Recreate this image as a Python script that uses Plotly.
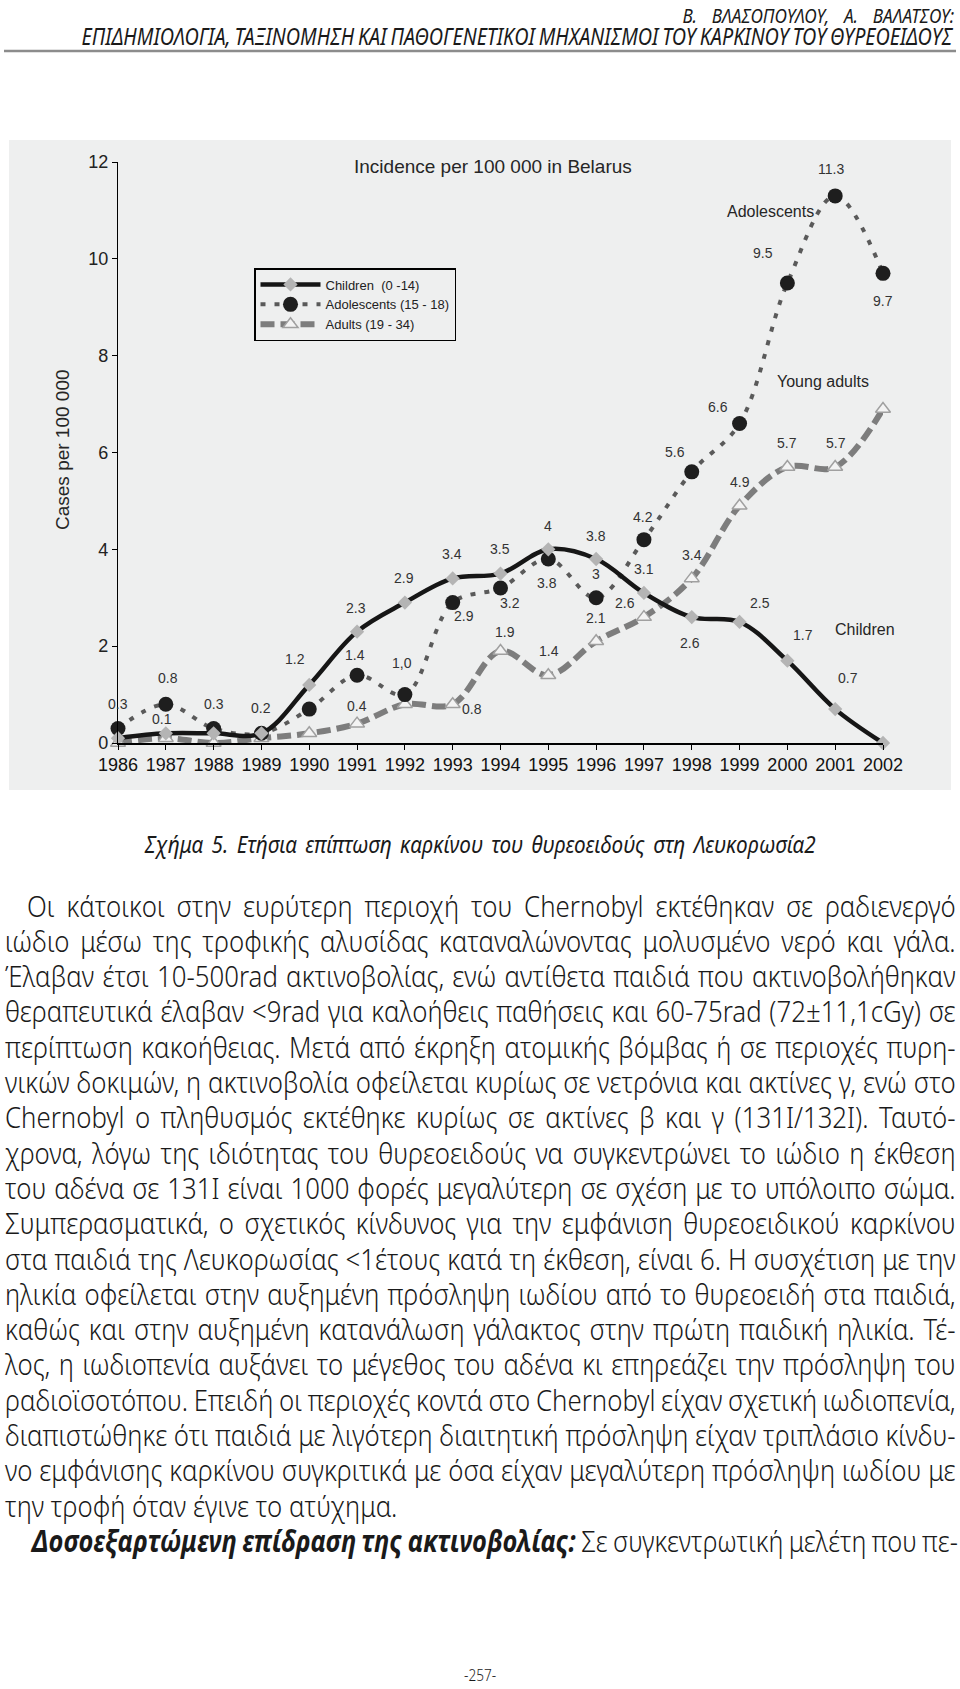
import json
import plotly.graph_objects as go

# ---------------- data ----------------
years = list(range(1986, 2003))
children = [0.1, 0.2, 0.2, 0.2, 1.2, 2.3, 2.9, 3.4, 3.5, 4.0, 3.8, 3.1, 2.6, 2.5, 1.7, 0.7, 0.0]
adolescents = [0.3, 0.8, 0.3, 0.2, 0.7, 1.4, 1.0, 2.9, 3.2, 3.8, 3.0, 4.2, 5.6, 6.6, 9.5, 11.3, 9.7]
adults = [0.0, 0.1, 0.0, 0.1, 0.2, 0.4, 0.8, 0.8, 1.9, 1.4, 2.1, 2.6, 3.4, 4.9, 5.7, 5.7, 6.9]
year_labels = [str(y) for y in years]
y_ticks = [0, 2, 4, 6, 8, 10, 12]
series_names = ["Children  (0 -14)", "Adolescents (15 - 18)", "Adults (19 - 34)"]

# value labels printed on the chart (text, year, value position)
value_labels = [
    ("0.3", 1986.0, 0.80), ("0.8", 1987.05, 1.34), ("0.1", 1986.92, 0.50),
    ("0.3", 1988.0, 0.80), ("0.2", 1989.0, 0.72), ("1.2", 1989.71, 1.73),
    ("2.3", 1990.98, 2.79), ("1.4", 1990.96, 1.82), ("0.4", 1991.0, 0.76),
    ("2.9", 1991.99, 3.41), ("1,0", 1991.93, 1.65), ("3.4", 1992.99, 3.90),
    ("2.9", 1993.24, 2.62), ("0.8", 1993.40, 0.70), ("3.5", 1993.99, 4.00),
    ("3.2", 1994.20, 2.90), ("1.9", 1994.10, 2.30), ("4", 1995.0, 4.48),
    ("3.8", 1994.97, 3.30), ("1.4", 1995.01, 1.90), ("3.8", 1995.99, 4.28),
    ("3", 1996.0, 3.50), ("2.1", 1995.99, 2.58), ("2.6", 1996.60, 2.90),
    ("4.2", 1996.97, 4.67), ("3.1", 1997.0, 3.60), ("5.6", 1997.65, 6.00),
    ("3.4", 1998.0, 3.88), ("2.6", 1997.96, 2.07), ("2.5", 1999.42, 2.90),
    ("4.9", 1999.0, 5.40), ("1.7", 2000.32, 2.23), ("0.7", 2001.27, 1.34),
    ("0", 2002.04, 0.50), ("6.6", 1998.55, 6.94), ("5.7", 2000.0, 6.20),
    ("5.7", 2001.02, 6.20), ("6.9", 2002.04, 7.30), ("9.5", 1999.49, 10.12),
    ("9.7", 2002.0, 9.13), ("11.3", 2000.91, 11.86),
]
series_labels = [("Adolescents", 1999.65, 10.97), ("Young adults", 2000.74, 7.46),
                 ("Children", 2001.62, 2.35)]

chart_title = "Incidence per 100 000 in Belarus"
y_title = "Cases per 100 000"

header_lines = [
    "Β. ΒΛΑΣΟΠΟΥΛΟΥ, Α. ΒΑΛΑΤΣΟΥ:",
    "ΕΠΙΔΗΜΙΟΛΟΓΙΑ, ΤΑΞΙΝΟΜΗΣΗ ΚΑΙ ΠΑΘΟΓΕΝΕΤΙΚΟΙ ΜΗΧΑΝΙΣΜΟΙ ΤΟΥ ΚΑΡΚΙΝΟΥ ΤΟΥ ΘΥΡΕΟΕΙΔΟΥΣ",
]
caption = "Σχήμα 5. Ετήσια επίπτωση καρκίνου του θυρεοειδούς στη Λευκορωσία2"
body_lines = [
    "Οι κάτοικοι στην ευρύτερη περιοχή του Chernobyl εκτέθηκαν σε ραδιενεργό",
    "ιώδιο μέσω της τροφικής αλυσίδας καταναλώνοντας μολυσμένο νερό και γάλα.",
    "Έλαβαν έτσι 10-500rad ακτινοβολίας, ενώ αντίθετα παιδιά που ακτινοβολήθηκαν",
    "θεραπευτικά έλαβαν &lt;9rad για καλοήθεις παθήσεις και 60-75rad (72±11,1cGy) σε",
    "περίπτωση κακοήθειας. Μετά από έκρηξη ατομικής βόμβας ή σε περιοχές πυρη-",
    "νικών δοκιμών, η ακτινοβολία οφείλεται κυρίως σε νετρόνια και ακτίνες γ, ενώ στο",
    "Chernobyl ο πληθυσμός εκτέθηκε κυρίως σε ακτίνες β και γ (131I/132I). Ταυτό-",
    "χρονα, λόγω της ιδιότητας του θυρεοειδούς να συγκεντρώνει το ιώδιο η έκθεση",
    "του αδένα σε 131I είναι 1000 φορές μεγαλύτερη σε σχέση με το υπόλοιπο σώμα.",
    "Συμπερασματικά, ο σχετικός κίνδυνος για την εμφάνιση θυρεοειδικού καρκίνου",
    "στα παιδιά της Λευκορωσίας &lt;1έτους κατά τη έκθεση, είναι 6. Η συσχέτιση με την",
    "ηλικία οφείλεται στην αυξημένη πρόσληψη ιωδίου από το θυρεοειδή στα παιδιά,",
    "καθώς και στην αυξημένη κατανάλωση γάλακτος στην πρώτη παιδική ηλικία. Τέ-",
    "λος, η ιωδιοπενία αυξάνει το μέγεθος του αδένα κι επηρεάζει την πρόσληψη του",
    "ραδιοϊσοτόπου. Επειδή οι περιοχές κοντά στο Chernobyl είχαν σχετική ιωδιοπενία,",
    "διαπιστώθηκε ότι παιδιά με λιγότερη διαιτητική πρόσληψη είχαν τριπλάσιο κίνδυ-",
    "νο εμφάνισης καρκίνου συγκριτικά με όσα είχαν μεγαλύτερη πρόσληψη ιωδίου με",
    "την τροφή όταν έγινε το ατύχημα.",
    "<b><i>Δοσοεξαρτώμενη επίδραση της ακτινοβολίας:</i></b> Σε συγκεντρωτική μελέτη που πε-",
]
page_number = "-257-"

# ---------------- helpers ----------------
W, H = 960, 1689


def PX(x):
    return x / W


def PY(y):
    return 1 - y / H


ARIAL = "Liberation Sans, Arial, sans-serif"
BODY = "Noto Sans, Open Sans, sans-serif"

fig = go.Figure()

fig.add_trace(go.Scatter(
    x=years, y=adults, name=series_names[2], mode="lines+markers",
    line=dict(color="#7d7d7d", width=6, dash="14px,6px", shape="spline", smoothing=1),
    marker=dict(symbol="triangle-up", size=13, color="#f3f3f3",
                line=dict(color="#a0a0a0", width=1.5)),
    cliponaxis=False, legendrank=3))
fig.add_trace(go.Scatter(
    x=years, y=adolescents, name=series_names[1], mode="lines+markers",
    line=dict(color="#5a5a5a", width=4, dash="5px,9px", shape="spline", smoothing=1),
    marker=dict(symbol="circle", size=15, color="#1e1e1e"),
    cliponaxis=False, legendrank=2))
fig.add_trace(go.Scatter(
    x=years, y=children, name=series_names[0], mode="lines+markers",
    line=dict(color="#161616", width=4.5, shape="spline", smoothing=1),
    marker=dict(symbol="diamond", size=11, color="#b4b4b4"),
    cliponaxis=False, legendrank=1))

annotations = []

for t, xv, yv in value_labels:
    annotations.append(dict(text=t, x=xv, y=yv, xref="x", yref="y", showarrow=False,
                            xanchor="center", yanchor="middle",
                            font=dict(family=ARIAL, size=14, color="#333")))
for t, xv, yv in series_labels:
    annotations.append(dict(text=t, x=xv, y=yv, xref="x", yref="y", showarrow=False,
                            xanchor="center", yanchor="middle",
                            font=dict(family=ARIAL, size=16, color="#262626")))

annotations.append(dict(text=chart_title, x=PX(493), y=PY(167), xref="paper", yref="paper",
                        xanchor="center", yanchor="middle", showarrow=False,
                        font=dict(family=ARIAL, size=19, color="#262626")))
annotations.append(dict(text=y_title, x=PX(62), y=PY(450), xref="paper", yref="paper",
                        xanchor="center", yanchor="middle", showarrow=False, textangle=-90,
                        font=dict(family=ARIAL, size=19, color="#262626")))

fit_spec = {}

# header
for t, yc, target, fs in zip(header_lines, [15, 36], [272, 871], [20, 23]):
    fit_spec[len(annotations)] = dict(T=target, s=0.86, j=True)
    annotations.append(dict(text=t, x=PX(955), y=PY(yc), xref="paper", yref="paper",
                            xanchor="right", yanchor="middle", align="right",
                            showarrow=False, borderpad=0,
                            font=dict(family=BODY, size=fs, color="#1a1a1a", style="italic")))

# caption
fit_spec[len(annotations)] = dict(T=671, s=0.9, j=True)
annotations.append(dict(text=caption, x=PX(480), y=PY(844), xref="paper", yref="paper",
                        xanchor="center", yanchor="middle", align="center",
                        showarrow=False, borderpad=0,
                        font=dict(family=BODY, size=23, color="#1a1a1a", style="italic")))

# body text
for i, t in enumerate(body_lines):
    x0 = 4
    if i == 0:
        x0 = 26
    if i == len(body_lines) - 1:
        x0 = 29
    justify = (i != len(body_lines) - 2)
    fit_spec[len(annotations)] = dict(T=955 - x0, s=0.86, j=justify)
    annotations.append(dict(text=t, x=PX(x0), y=PY(905 + 35.3 * i), xref="paper", yref="paper",
                            xanchor="left", yanchor="middle", align="left",
                            showarrow=False, borderpad=0,
                            font=dict(family=BODY, size=30, color="#1a1a1a", weight=300)))

# page number
fit_spec[len(annotations)] = dict(T=0, s=0.8, j=False)
annotations.append(dict(text=page_number, x=PX(480), y=PY(1674), xref="paper", yref="paper",
                        xanchor="center", yanchor="middle", align="center",
                        showarrow=False, borderpad=0,
                        font=dict(family=BODY, size=17, color="#1a1a1a", weight=300)))

shapes = [
    dict(type="rect", xref="paper", yref="paper", x0=PX(9), x1=PX(951), y0=PY(790), y1=PY(140),
         fillcolor="#eeefef", line=dict(width=0), layer="below"),
    dict(type="line", xref="paper", yref="paper", x0=PX(4), x1=PX(956), y0=PY(51), y1=PY(51),
         line=dict(color="#8c8c8c", width=2.5)),
]

fig.update_layout(
    width=W, height=H, margin=dict(l=0, r=0, t=0, b=0),
    paper_bgcolor="white", plot_bgcolor="rgba(0,0,0,0)",
    showlegend=True,
    legend=dict(x=PX(254), y=PY(268), xanchor="left", yanchor="top",
                bordercolor="black", borderwidth=1.5, bgcolor="rgba(0,0,0,0)",
                font=dict(family=ARIAL, size=13, color="#222"), itemwidth=60,
                tracegroupgap=0),
    xaxis=dict(domain=[PX(118), PX(883)], range=[1986, 2002], automargin=False,
               tickvals=years, ticktext=year_labels, showline=True, linecolor="black",
               linewidth=1.5, ticks="outside", ticklen=5, tickcolor="black",
               showgrid=False, zeroline=False,
               tickfont=dict(family=ARIAL, size=18, color="#111")),
    yaxis=dict(domain=[PY(743), PY(162)], range=[0, 12], automargin=False,
               tickvals=y_ticks, showline=True, linecolor="black", linewidth=1.2,
               ticks="outside", ticklen=5, tickcolor="black", showgrid=False,
               zeroline=False, tickfont=dict(family=ARIAL, size=18, color="#222")),
    annotations=annotations, shapes=shapes,
)

post_js = """
var gd = document.getElementById('{plot_id}');
var spec = SPEC_JSON;
function fitText(){
  Object.keys(spec).forEach(function(k){
    var o = spec[k];
    var t = gd.querySelector('g.annotation[data-index="' + k + '"] text.annotation-text');
    if (!t) return;
    t.style.wordSpacing = '0px';
    t.removeAttribute('transform');
    var w = t.getComputedTextLength();
    var n = (t.textContent.match(/ /g) || []).length;
    var s = o.s, ws = 0;
    if (o.j && n > 0) {
      s = Math.min(o.s, o.T / Math.max(w - 1.5 * n, 1));
      ws = (o.T / s - w) / n;
    }
    var x0 = parseFloat(t.getAttribute('x')) || 0;
    t.style.wordSpacing = ws + 'px';
    t.setAttribute('transform', 'matrix(' + s + ',0,0,1,' + (x0 * (1 - s)) + ',0)');
  });
}
fitText();
if (document.fonts && document.fonts.ready) { document.fonts.ready.then(fitText); }
""".replace("SPEC_JSON", json.dumps(fit_spec))

fig.write_html("out.html", post_script=post_js)
